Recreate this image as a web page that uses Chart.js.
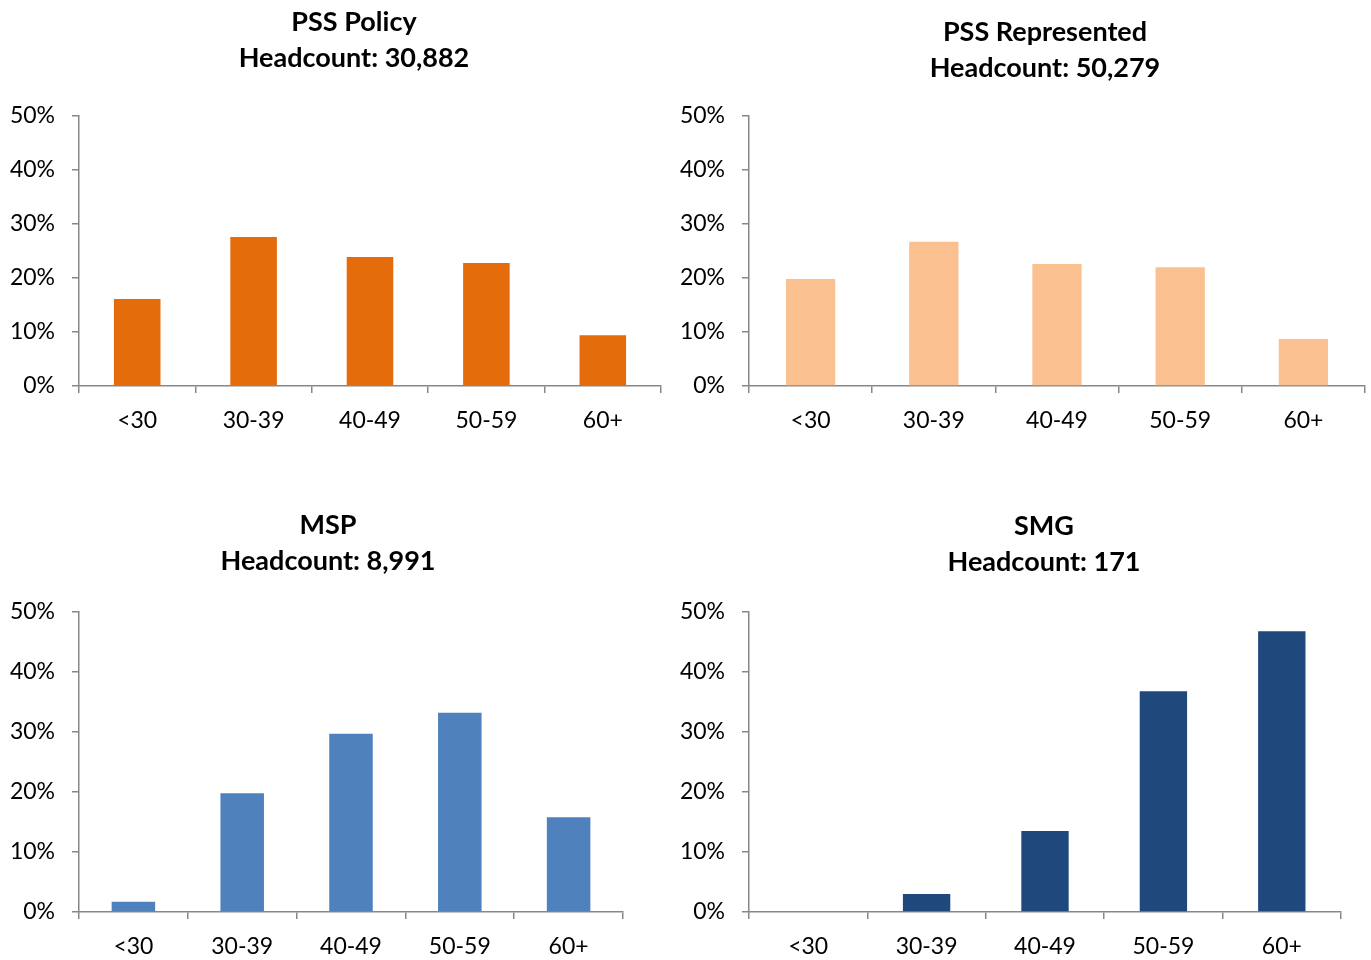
<!DOCTYPE html>
<html>
<head>
<meta charset="utf-8">
<script src="https://cdn.jsdelivr.net/npm/chart.js@4"></script>
<style>
  html, body { margin: 0; padding: 0; background: #ffffff; overflow: hidden; width: 1371px; height: 960px; }
  canvas { position: absolute; }
</style>
</head>
<body>
<canvas id="c1" width="708" height="460" style="left:0px;top:0px;"></canvas>
<canvas id="c2" width="734" height="460" style="left:678px;top:0px;"></canvas>
<canvas id="c3" width="656" height="470" style="left:0px;top:490px;"></canvas>
<canvas id="c4" width="732" height="470" style="left:678px;top:490px;"></canvas>
<script>
// ---- data ----
const categories = ['<30', '30-39', '40-49', '50-59', '60+'];
const yTickValues = [0, 10, 20, 30, 40, 50];

const pssPolicyTitle = ['PSS Policy', 'Headcount: 30,882'];
const pssPolicy = [16.1, 27.6, 23.9, 22.8, 9.4];

const pssRepresentedTitle = ['PSS Represented', 'Headcount: 50,279'];
const pssRepresented = [19.8, 26.7, 22.6, 22.0, 8.7];

const mspTitle = ['MSP', 'Headcount: 8,991'];
const msp = [1.7, 19.8, 29.7, 33.2, 15.8];

const smgTitle = ['SMG', 'Headcount: 171'];
const smg = [0, 3.0, 13.5, 36.8, 46.8];

// ---- rendering ----
const FONT = 'Lato, "Open Sans", sans-serif';
const AXIS = '#878787';

const twoLineTitle = {
  id: 'twoLineTitle',
  afterDraw(chart, args, opts) {
    const ctx = chart.ctx;
    ctx.save();
    ctx.font = 'bold 27px ' + FONT;
    ctx.fillStyle = '#000000';
    ctx.textAlign = 'center';
    ctx.textBaseline = 'middle';
    opts.lines.forEach((l, i) => ctx.fillText(l, opts.x, opts.ys[i]));
    ctx.restore();
  }
};

function makeChart(id, values, color, titleLines, t) {
  new Chart(document.getElementById(id), {
    type: 'bar',
    data: {
      labels: categories,
      datasets: [{ data: values, backgroundColor: color, borderWidth: 0,
                   categoryPercentage: 1.0, barPercentage: 0.4 }]
    },
    options: {
      responsive: false,
      animation: false,
      layout: { padding: { top: t.padTop, right: t.padRight, left: 0, bottom: 0 } },
      plugins: {
        legend: { display: false },
        title: { display: false },
        tooltip: { enabled: false },
        twoLineTitle: { lines: titleLines, x: t.titleX, ys: t.titleYs }
      },
      scales: {
        x: {
          grid: { display: true, drawOnChartArea: false, drawTicks: true, tickLength: 7,
                  offset: true, color: AXIS, lineWidth: 1.5 },
          border: { display: true, color: AXIS, width: 1.5 },
          ticks: { color: '#000000', font: { family: FONT, size: 23 }, padding: 14, maxRotation: 0 },
          afterFit(scale) { scale.height = t.xHeight; }
        },
        y: {
          min: 0, max: 50,
          afterBuildTicks(scale) { scale.ticks = yTickValues.map(v => ({ value: v })); },
          grid: { display: true, drawOnChartArea: false, drawTicks: true, tickLength: 7,
                  color: AXIS, lineWidth: 1.5 },
          border: { display: true, color: AXIS, width: 1.5 },
          ticks: { color: '#000000', font: { family: FONT, size: 23 }, padding: 17,
                   callback: v => v + '%' },
          afterFit(scale) { scale.width = t.yWidth; }
        }
      }
    },
    plugins: [twoLineTitle]
  });
}

makeChart('c1', pssPolicy, '#E46C0A', pssPolicyTitle,
  { padTop: 116, padRight: 47, yWidth: 79, xHeight: 74, titleX: 354, titleYs: [22, 58] });
makeChart('c2', pssRepresented, '#FAC090', pssRepresentedTitle,
  { padTop: 116, padRight: 47, yWidth: 71, xHeight: 74, titleX: 367, titleYs: [32, 68] });
makeChart('c3', msp, '#4F81BD', mspTitle,
  { padTop: 122, padRight: 33, yWidth: 79, xHeight: 48, titleX: 328, titleYs: [35, 71] });
makeChart('c4', smg, '#1F497D', smgTitle,
  { padTop: 122, padRight: 69, yWidth: 71, xHeight: 48, titleX: 366, titleYs: [36, 72] });
</script>
</body>
</html>
